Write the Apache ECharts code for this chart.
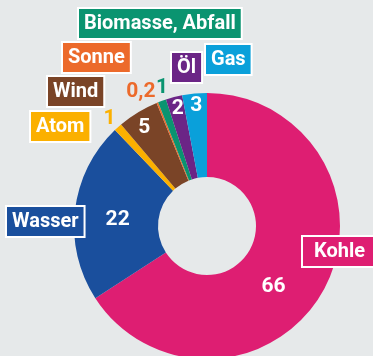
<!DOCTYPE html>
<html>
<head>
<meta charset="utf-8">
<script src="https://cdn.jsdelivr.net/npm/echarts@6/dist/echarts.min.js"></script>
<style>
  html, body { margin: 0; padding: 0; background: #e6e9ea; }
  #chart { width: 373px; height: 356px; }
</style>
</head>
<body>
<div id="chart"></div>
<script>
// Energy mix shares, in percent
const categories = ['Kohle', 'Wasser', 'Atom', 'Wind', 'Sonne', 'Biomasse, Abfall', 'Öl', 'Gas'];
const shares = [66, 22, 1, 5, 0.2, 1, 2, 3];
const colors = ['#de1e72', '#1a4f9d', '#fbb000', '#7a4427', '#ec6a2b', '#0a9470', '#6b2586', '#0aa0da'];

// slices whose value is written outside the ring
const outsideValue = ['Atom', 'Sonne', 'Biomasse, Abfall'];

// layout tweaks for the value labels and the name tags
const valueShift = {
  'Kohle': [-16, 16], 'Wasser': [4, 5], 'Wind': [-14, -18], 'Öl': [-6, -26], 'Gas': [-2, -27],
  'Atom': [7, 2], 'Sonne': [3, 1], 'Biomasse, Abfall': [11, 1]
};
const outsideLen = { 'Atom': 14, 'Sonne': 13, 'Biomasse, Abfall': 15 };
const tagPos = {
  'Biomasse, Abfall': [79, 9], 'Sonne': [63, 43], 'Öl': [172, 53], 'Gas': [206, 45],
  'Wind': [48, 77], 'Atom': [31, 112], 'Wasser': [7, 207], 'Kohle': [303, 237]
};
const tagPad = { 'Kohle': [4, 12, 3, 11] };

const FONT = 'Roboto, "Liberation Sans", sans-serif';
const fmt = v => String(v).replace('.', ',');

const data = categories.map((name, i) => {
  const item = { name, value: shares[i], itemStyle: { color: colors[i] } };
  if (outsideValue.includes(name)) {
    item.label = { position: 'outside', color: colors[i], distanceToLabelLine: 0 };
    item.labelLine = { show: false, length: outsideLen[name], length2: 0 };
  }
  return item;
});

const tags = categories.map((name, i) => ({
  type: 'text',
  x: tagPos[name][0],
  y: tagPos[name][1],
  z: 10,
  style: {
    text: name,
    fill: '#fff',
    font: 'bold 20px ' + FONT,
    lineHeight: 22,
    backgroundColor: colors[i],
    borderColor: '#fff',
    borderWidth: 2,
    padding: tagPad[name] || [4, 5, 3, 5]
  }
}));

const chart = echarts.init(document.getElementById('chart'), null, { renderer: 'canvas' });
chart.setOption({
  backgroundColor: '#e6e9ea',
  animation: false,
  series: [{
    type: 'pie',
    center: [207, 226],
    radius: [49, 133],
    startAngle: 90,
    clockwise: true,
    avoidLabelOverlap: false,
    silent: true,
    itemStyle: { borderWidth: 0 },
    label: {
      show: true,
      position: 'inside',
      formatter: p => fmt(p.value),
      color: '#fff',
      fontFamily: FONT,
      fontWeight: 'bold',
      fontSize: 21
    },
    labelLine: { show: false },
    labelLayout: p => {
      const s = valueShift[categories[p.dataIndex]] || [0, 0];
      return { dx: s[0], dy: s[1] };
    },
    data
  }],
  graphic: tags
});
</script>
</body>
</html>
